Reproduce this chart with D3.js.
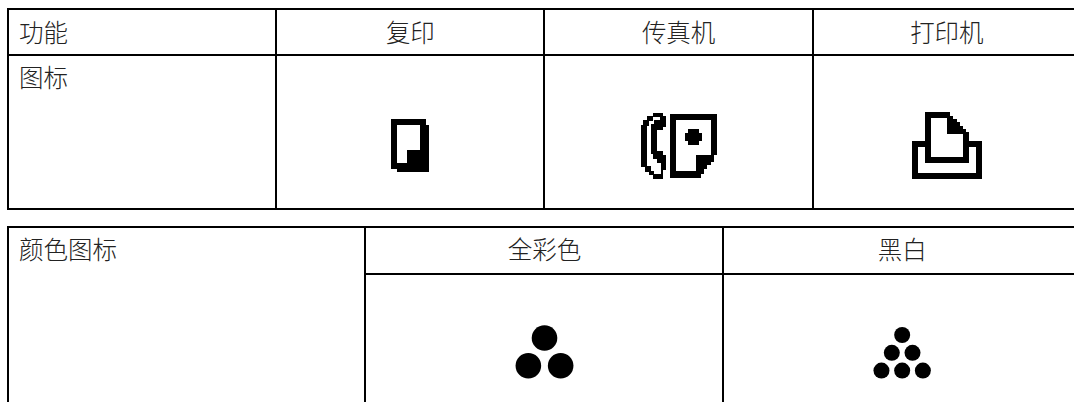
<!DOCTYPE html>
<html>
<head>
<meta charset="utf-8">
<script src="https://cdn.jsdelivr.net/npm/d3@7"></script>
<style>
html, body { margin: 0; background: #fff; overflow: hidden; }
text { font-family: "Noto Sans CJK SC", sans-serif; font-size: 24.5px; font-weight: 300; fill: #222; }
</style>
</head>
<body>
<svg id="chart" width="1074" height="402"></svg>
<script>
// table contents
var functionHeaders = ["功能", "复印", "传真机", "打印机"];
var functionRowLabel = "图标";
var functionIcons = ["复印", "传真机", "打印机"];
var colorHeaders = ["颜色图标", "全彩色", "黑白"];
var colorDotRows = [[1, 2], [1, 2, 3]]; // dots per row, 全彩色 / 黑白

// icon outlines, drawn on a 3x grid
var iconPaths = {
  "复印": {
    d: "M93 60H197V78H207V218H111V210H93Z M111 78H180V153H141V192H111Z",
    cx: 150, cy: 139
  },
  "传真机": {
    d: "M96 38H126V48H136V80H126V90H108V152H126V165H136V210H126V235H96V225H84V215H72V200H60V75H68V60H78V48H96Z " +
       "M96 50H118V60H100V70H90V160H98V175H108V188H120V222H100V212H90V198H78V78H84V62H96Z " +
       "M148 40H290V165H280V185H270V195H260V205H250V222H240V232H148Z " +
       "M165 58H272V165H225V212H165Z " +
       "M203 87H235V97H244V123H235V133H203V123H194V97H203Z",
    cx: 174, cy: 136
  },
  "打印机": {
    d: "M105 30H180V40H190V50H200V60H210V70H220V80H228V88H238V117H275V230H66V117H105Z " +
       "M123 48H172V95H220V165H123Z M84 135H105V183H238V135H257V212H84Z",
    cx: 170.5, cy: 130
  }
};

var width = 1074, height = 402;
var lineWidth = 2;

var svg = d3.select("#chart");

var x1 = d3.scaleBand().domain(functionHeaders).range([8, 1081]);
var x2 = d3.scaleBand().domain(colorHeaders).range([8, 1081]);

function hLine(x0, x1_, y) {
  svg.append("line").attr("x1", x0).attr("x2", x1_).attr("y1", y).attr("y2", y)
    .attr("stroke", "#000").attr("stroke-width", lineWidth);
}
function vLine(x, y0, y1) {
  svg.append("line").attr("x1", x).attr("x2", x).attr("y1", y0).attr("y2", y1)
    .attr("stroke", "#000").attr("stroke-width", lineWidth);
}
// snap a column edge onto the pixel grid
function snap(x) { return Math.floor(x + 0.25); }

// top table
var top1 = 9, row1 = 55, bottom1 = 209;
[top1, row1, bottom1].forEach(function (y) { hLine(7, width, y); });
functionHeaders.forEach(function (f) { vLine(snap(x1(f)), top1 - 1, bottom1 + 1); });

svg.selectAll(".head1")
  .data(functionHeaders)
  .enter().append("text")
  .attr("class", "head1")
  .attr("x", function (d, i) { return i == 0 ? 19 : x1(d) + x1.bandwidth() / 2; })
  .attr("y", 42)
  .attr("text-anchor", function (d, i) { return i == 0 ? "start" : "middle"; })
  .text(function (d) { return d; });

svg.append("text").attr("x", 19).attr("y", 87).text(functionRowLabel);

svg.selectAll(".icon")
  .data(functionIcons)
  .enter().append("path")
  .attr("class", "icon")
  .attr("d", function (d) { return iconPaths[d].d; })
  .attr("fill", "#000")
  .attr("fill-rule", "evenodd")
  .attr("shape-rendering", "crispEdges")
  .attr("transform", function (d) {
    var p = iconPaths[d];
    return "translate(" + (x1(d) + x1.bandwidth() / 2) + ",145.5) scale(" + (1 / 3) + ") translate(" + (-p.cx) + "," + (-p.cy) + ")";
  });

// colour table
var top2 = 227, row2 = 274;
hLine(7, width, top2);
hLine(snap(x2(colorHeaders[1])), width, row2);
vLine(8, top2 - 1, height);
colorHeaders.slice(1).forEach(function (f) { vLine(snap(x2(f)), top2 - 1, height); });

svg.selectAll(".head2")
  .data(colorHeaders)
  .enter().append("text")
  .attr("class", "head2")
  .attr("x", function (d, i) { return i == 0 ? 19 : x2(d) + x2.bandwidth() / 2; })
  .attr("y", 259)
  .attr("text-anchor", function (d, i) { return i == 0 ? "start" : "middle"; })
  .text(function (d) { return d; });

// dot triangles, sized per column
var dotStyle = [
  { r: 12.8, dx: 32.3, dy: 27.7, top: 338 },
  { r: 8, dx: 20.7, dy: 17.8, top: 335 }
];
colorDotRows.forEach(function (rows, c) {
  var s = dotStyle[c];
  var cx = x2(colorHeaders[c + 1]) + x2.bandwidth() / 2;
  rows.forEach(function (n, r) {
    svg.selectAll(".dot" + c + "_" + r)
      .data(d3.range(n))
      .enter().append("circle")
      .attr("cx", function (i) { return cx + (i - (n - 1) / 2) * s.dx; })
      .attr("cy", s.top + r * s.dy)
      .attr("r", s.r)
      .attr("fill", "#000");
  });
});
</script>
</body>
</html>
